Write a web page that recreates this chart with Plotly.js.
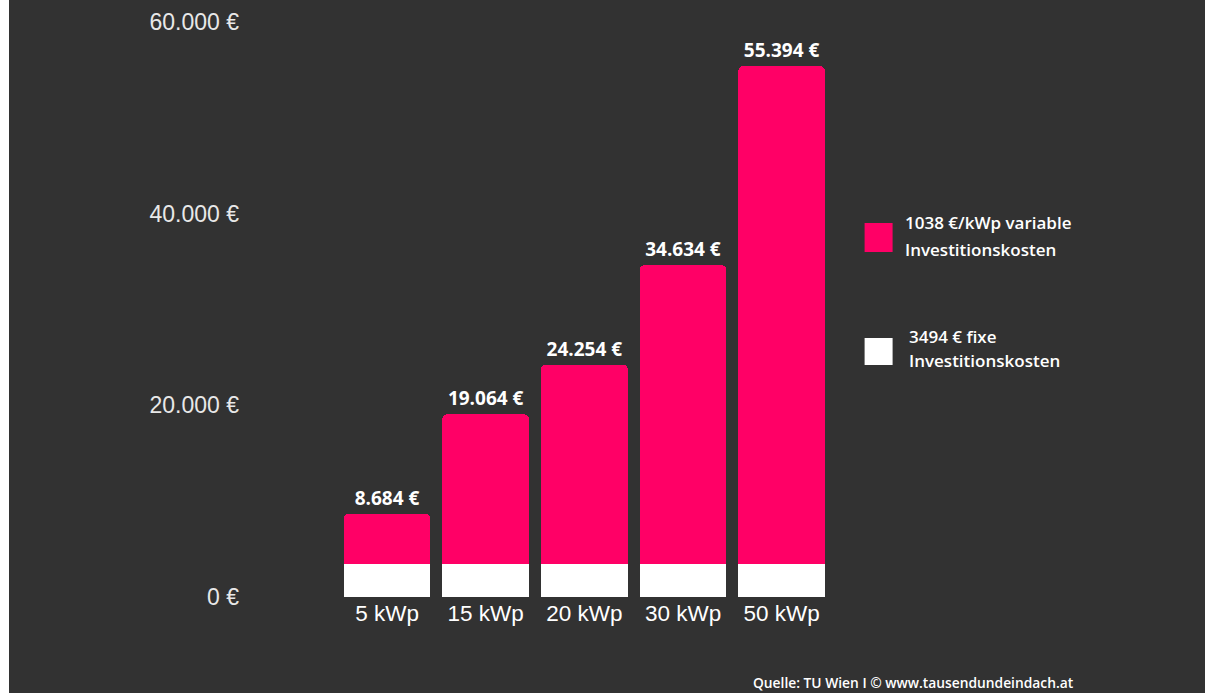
<!DOCTYPE html>
<html>
<head>
<meta charset="utf-8">
<script src="https://cdn.plot.ly/plotly-3.0.1.min.js"></script>
<style>
  html, body { margin: 0; padding: 0; background: #ffffff; }
  #chart { position: absolute; left: 9px; top: 0; width: 1196px; height: 693px; }
</style>
</head>
<body>
<div id="chart"></div>
<script>
// ---- data ----
const categories = ["5 kWp", "15 kWp", "20 kWp", "30 kWp", "50 kWp"];
const fixedCosts = [3494, 3494, 3494, 3494, 3494];
const variableCosts = [5190, 15570, 20760, 31140, 51900];
const yTickValues = [0, 20000, 40000, 60000];
const yTickLabels = ["0 €", "20.000 €", "40.000 €", "60.000 €"];
const seriesNames = ["3494 € fixe Investitionskosten", "1038 €/kWp variable Investitionskosten"];
const legendLines = [
  ["1038 €/kWp variable", "Investitionskosten"],
  ["3494 € fixe", "Investitionskosten"]
];
const sourceText = "Quelle: TU Wien I © www.tausendundeindach.at";

// ---- styling ----
const BG = "#323232";
const PINK = "#ff0066";
const WHITE = "#ffffff";
const W = 1196, H = 693;
const ML = 235.4, MR = 373.6, MT = 22, MB = 96;
const PW = W - ML - MR, PH = H - MT - MB;
const px = x => (x - 9 - ML) / PW;       // page px -> paper x
const py = y => 1 - (y - MT) / PH;       // page px -> paper y

const totals = fixedCosts.map((f, i) => f + variableCosts[i]);

const traces = [
  {
    type: "bar", name: seriesNames[0], x: categories, y: fixedCosts,
    marker: { color: WHITE, line: { width: 0 } },
    hoverinfo: "skip", showlegend: false
  },
  {
    type: "bar", name: seriesNames[1], x: categories, y: variableCosts,
    customdata: totals,
    texttemplate: "%{customdata:,} €",
    textposition: "outside",
    cliponaxis: false,
    textfont: { family: "Open Sans", size: 19, color: WHITE, weight: 700 },
    marker: { color: PINK, line: { width: 0 } },
    hoverinfo: "skip", showlegend: false
  }
];

const legendColors = [PINK, WHITE];
const legendBoxes = [[865, 223, 893, 252], [865, 338, 893, 365]];
const legendTextPos = [[[903, 222], [903, 249]], [[907, 336], [907, 361]]];

const shapes = [];
const annotations = [];
legendLines.forEach((lines, i) => {
  const b = legendBoxes[i];
  shapes.push({
    type: "rect", xref: "paper", yref: "paper",
    x0: px(b[0]), x1: px(b[2]), y0: py(b[3]), y1: py(b[1]),
    fillcolor: legendColors[i], line: { width: 0 }, layer: "above"
  });
  lines.forEach((t, j) => {
    const p = legendTextPos[i][j];
    annotations.push({
      text: t, xref: "paper", yref: "paper", x: px(p[0]), y: py(p[1]),
      xanchor: "left", yanchor: "middle", showarrow: false,
      font: { family: "Open Sans", size: 17, color: WHITE, weight: 600 }
    });
  });
});
annotations.push({
  text: sourceText, xref: "paper", yref: "paper", x: px(1076), y: py(682),
  xanchor: "right", yanchor: "middle", showarrow: false,
  font: { family: "Open Sans", size: 13.8, color: WHITE, weight: 600 }
});

const layout = {
  width: W, height: H,
  paper_bgcolor: BG, plot_bgcolor: BG,
  margin: { l: ML, r: MR, t: MT, b: MB, pad: 0 },
  separators: ",.",
  barmode: "stack",
  bargap: 0.12,
  barcornerradius: 5,
  showlegend: false,
  xaxis: {
    type: "category", range: [-1.45, 4.5],
    showgrid: false, zeroline: false, showline: false, ticks: "",
    ticklabelstandoff: 0,
    tickfont: { family: "Liberation Sans, Arial, sans-serif", size: 22.5, color: WHITE },
    fixedrange: true
  },
  yaxis: {
    range: [0, 60000], tickmode: "array", tickvals: yTickValues, ticktext: yTickLabels,
    showgrid: false, zeroline: false, showline: false, ticks: "",
    ticklabelstandoff: 4,
    tickfont: { family: "Liberation Sans, Arial, sans-serif", size: 23, color: "#e8e8e8" },
    fixedrange: true
  },
  shapes: shapes,
  annotations: annotations
};

Plotly.newPlot("chart", traces, layout, { displayModeBar: false, staticPlot: true });
</script>
</body>
</html>
